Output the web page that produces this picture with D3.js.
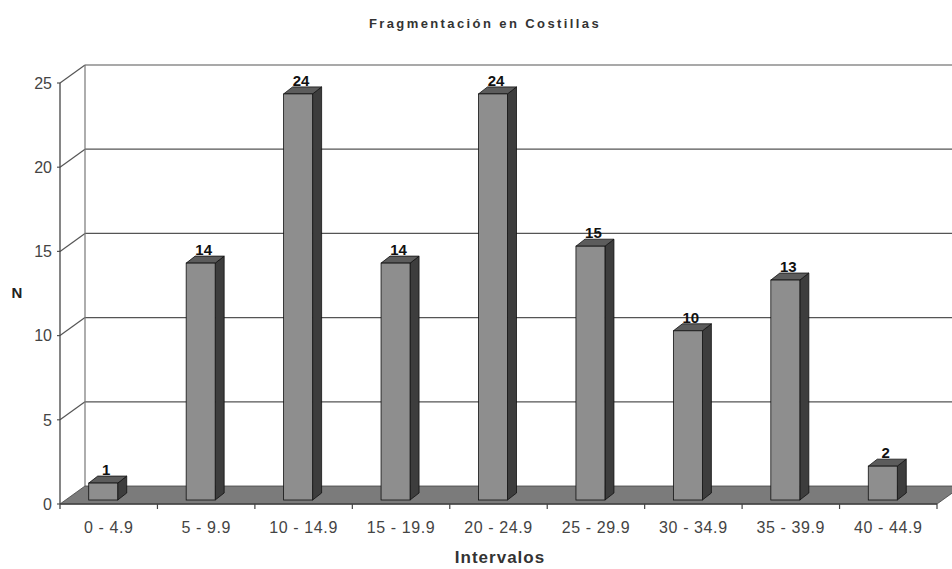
<!DOCTYPE html>
<html><head><meta charset="utf-8">
<script src="https://cdn.jsdelivr.net/npm/d3@7"></script>
<style>body{margin:0;background:#fff}svg{display:block}</style>
</head><body>
<svg id="c" width="952" height="569"></svg>
<script>
const categories = ["0 - 4.9","5 - 9.9","10 - 14.9","15 - 19.9","20 - 24.9","25 - 29.9","30 - 34.9","35 - 39.9","40 - 44.9"];
const values = [1,14,24,14,24,15,10,13,2];
const yTicks = [0,5,10,15,20,25];
const title = "Fragmentación en Costillas";
const xTitle = "Intervalos";
const yTitle = "N";

(function(){
const svg = d3.select("#c");
const pLeft = 60, pRight = 937, pBottom = 504, pTop = 83;
const DX = 25, DY = -18;           // depth of the chart box
const bOff = {x:0, y:-4};          // bar front face offset
const bD = {x:9, y:-7};            // bar depth
const FONT = "Liberation Sans, Arial, sans-serif";

const x = d3.scaleBand().domain(categories).range([pLeft, pRight]);
const y = d3.scaleLinear().domain([0,25]).range([pBottom, pTop]);

// back wall gridlines
const g = svg.append("g");
yTicks.forEach(t => {
  const yy = y(t);
  g.append("line").attr("x1", pLeft-3).attr("x2", pLeft).attr("y1", yy).attr("y2", yy)
    .attr("stroke", "#555").attr("stroke-width", 1.2);
  if (t > 0) {
    g.append("line").attr("x1", pLeft).attr("y1", yy).attr("x2", pLeft+DX).attr("y2", yy+DY)
      .attr("stroke", "#555").attr("stroke-width", 1.2);
    g.append("line").attr("x1", pLeft+DX).attr("y1", yy+DY).attr("x2", 952).attr("y2", yy+DY)
      .attr("stroke", "#555").attr("stroke-width", 1.2);
  }
});
g.append("line").attr("x1", pLeft+DX).attr("y1", y(0)+DY).attr("x2", pLeft+DX).attr("y2", y(25)+DY)
  .attr("stroke", "#777").attr("stroke-width", 1.2);

// floor
svg.append("path")
  .attr("d", `M${pLeft},${pBottom} L${pLeft+DX},${pBottom+DY} L${pRight+DX},${pBottom+DY} L${pRight},${pBottom} Z`)
  .attr("fill", "#7b7b7b").attr("stroke", "#444").attr("stroke-width", 0.8);

// axes front lines
svg.append("line").attr("x1", pLeft).attr("x2", pLeft).attr("y1", y(25)).attr("y2", pBottom+5)
  .attr("stroke", "#444").attr("stroke-width", 1.3);
svg.append("line").attr("x1", pLeft).attr("x2", pRight).attr("y1", pBottom).attr("y2", pBottom)
  .attr("stroke", "#444").attr("stroke-width", 1.3);
categories.forEach(c => {
  const xx = x(c) + x.bandwidth();
  svg.append("line").attr("x1", xx).attr("x2", xx).attr("y1", pBottom).attr("y2", pBottom+5)
    .attr("stroke", "#444").attr("stroke-width", 1.2);
});

// y tick labels
svg.append("g").selectAll("text").data(yTicks).join("text")
  .attr("x", pLeft-8).attr("y", d => y(d)).attr("dy", "0.36em")
  .attr("text-anchor", "end").attr("font-family", FONT)
  .attr("font-size", 16).attr("fill", "#444").text(d => d);

// x tick labels
svg.append("g").selectAll("text").data(categories).join("text")
  .attr("x", d => x(d) + x.bandwidth()/2).attr("y", 527).attr("dy", "0.36em")
  .attr("text-anchor", "middle").attr("font-family", FONT).attr("letter-spacing", 0.6)
  .attr("font-size", 16).attr("fill", "#444").text(d => d);

// bars
const bw = 29;
const yb = d3.scaleLinear().domain([0,25]).range([pBottom + bOff.y, pTop + bOff.y - 2]);
const bars = svg.append("g");
categories.forEach((c, i) => {
  const v = values[i];
  const x0 = x(c) + x.bandwidth()/2 - 20 + bOff.x;
  const x1 = x0 + bw;
  const y0 = yb(0), y1 = yb(v);
  bars.append("path")
    .attr("d", `M${x1},${y0} L${x1+bD.x},${y0+bD.y} L${x1+bD.x},${y1+bD.y} L${x1},${y1} Z`)
    .attr("fill", "#3d3d3d").attr("stroke", "#111").attr("stroke-width", 0.8);
  bars.append("path")
    .attr("d", `M${x0},${y1} L${x0+bD.x},${y1+bD.y} L${x1+bD.x},${y1+bD.y} L${x1},${y1} Z`)
    .attr("fill", "#5c5c5c").attr("stroke", "#111").attr("stroke-width", 0.8);
  bars.append("rect").attr("x", x0).attr("y", y1).attr("width", bw).attr("height", y0 - y1)
    .attr("fill", "#8e8e8e").attr("stroke", "#111").attr("stroke-width", 0.8);
  bars.append("text").attr("x", (x0 + x1)/2 + 3).attr("y", y1 - 8)
    .attr("text-anchor", "middle").attr("font-family", FONT)
    .attr("font-weight", "bold").attr("font-size", 15).attr("fill", "#111").text(v);
});

// titles
svg.append("text").attr("x", 485).attr("y", 28).attr("text-anchor", "middle")
  .attr("font-family", FONT).attr("font-weight", "bold")
  .attr("font-size", 13).attr("letter-spacing", 2.4).attr("fill", "#333").text(title);
svg.append("text").attr("x", 500).attr("y", 563).attr("text-anchor", "middle")
  .attr("font-family", FONT).attr("font-weight", "bold").attr("letter-spacing", 1)
  .attr("font-size", 17).attr("fill", "#333").text(xTitle);
svg.append("text").attr("x", 17).attr("y", 298).attr("text-anchor", "middle")
  .attr("font-family", FONT).attr("font-weight", "bold")
  .attr("font-size", 15).attr("fill", "#222").text(yTitle);
})();
</script>
</body></html>
